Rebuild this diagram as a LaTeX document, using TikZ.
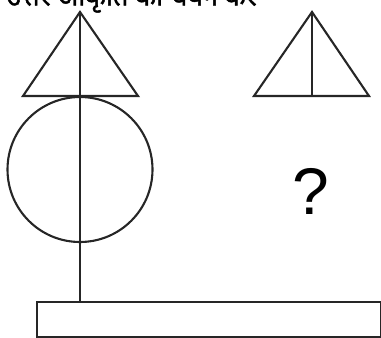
\documentclass[tikz,border=0pt]{standalone}
\usepackage{fontspec}
\setmainfont{Liberation Sans}
\newfontfamily\devfont[Script=Devanagari,FakeBold=1.5]{Noto Sans}
\begin{document}
\begin{tikzpicture}[x=1pt,y=-1pt,
  shp/.style={draw=black!85, line width=2.1pt, line join=miter},
  lbl/.style={inner sep=0pt}]
\useasboundingbox (0,0) rectangle (381,338);
% cut-off heading
\node[lbl, anchor=base west, font=\devfont\fontsize{27}{31}\selectfont] (head) at (6,5.5) {उत्तर आकृति का चयन करें};
% left figure
\coordinate (la) at (80,12);
\coordinate (lbl1) at (23,96);
\coordinate (lbr) at (138,96);
\draw[shp] (la) -- (lbr) -- (lbl1) -- cycle;
\node[shp, circle, minimum size=145pt, inner sep=0pt] (circ) at (80,169.5) {};
\node[shp, rectangle, minimum width=344pt, minimum height=35pt, inner sep=0pt, anchor=north west] (base) at (36,301) {};
\coordinate (stem) at (80,301);
\draw[shp] (la) -- (stem);
% right figure
\coordinate (ra) at (312,12);
\coordinate (rbl) at (254,96);
\coordinate (rbr) at (369,96);
\coordinate (rbm) at (312,96);
\draw[shp] (ra) -- (rbr) -- (rbl) -- cycle;
\draw[shp] (ra) -- (rbm);
\node[lbl, font=\fontsize{66}{70}\selectfont] (q) at (311,191) {?};
\end{tikzpicture}
\end{document}
